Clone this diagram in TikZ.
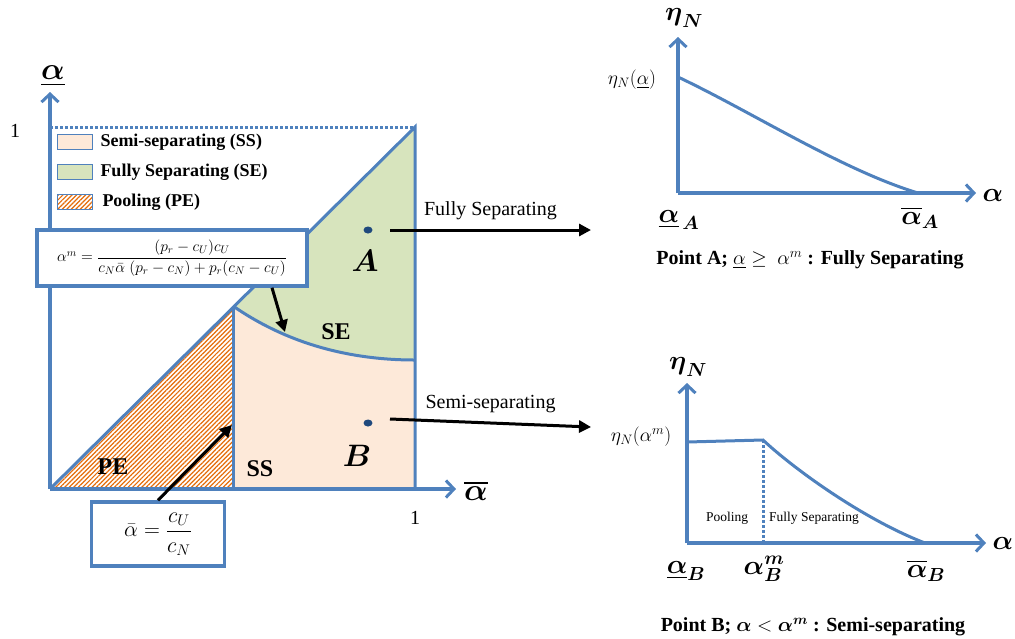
\RequirePackage{fix-cm}
\documentclass[tikz,border=0pt]{standalone}
\usepackage{amsmath,amssymb}
\usepackage{fontspec}
\setmainfont{Liberation Serif}
\usepackage{tikz}
\usetikzlibrary{positioning, arrows.meta, patterns.meta, shapes.geometric}
\definecolor{axisblue}{HTML}{4F81BD}
\definecolor{ssfill}{HTML}{FDE9D9}
\definecolor{sefill}{HTML}{D7E4BD}
\definecolor{peorange}{HTML}{E46C0A}
\definecolor{dotblue}{HTML}{1F497D}

\tikzset{
  axis/.style={draw=axisblue, line width=3.5pt, -{Straight Barb[length=8pt, width=17pt, line width=3pt]}},
  border/.style={draw=axisblue, line width=3pt},
  pointer/.style={draw=black, line width=3pt, -{Triangle[length=12pt, width=12pt]}},
  eqbox/.style={draw=axisblue, line width=3.5pt, fill=white, inner sep=0pt},
  legbox/.style={draw=axisblue, line width=1.6pt, minimum width=35pt, minimum height=15pt, inner sep=0pt},
  legtext/.style={font=\fontsize{18}{20}\selectfont\bfseries, inner sep=0pt},
  region/.style={font=\fontsize{24}{26}\selectfont\bfseries},
  plain/.style={font=\fontsize{20}{22}\selectfont},
  axlabel/.style={font=\fontsize{27}{29}\selectfont},
  ticklabel/.style={font=\fontsize{19.5}{21}\selectfont},
  caption/.style={font=\fontsize{20}{22}\selectfont\bfseries},
  dot/.style={ellipse, fill=dotblue, minimum width=9pt, minimum height=7pt, inner sep=0pt},
}

\begin{document}
\begin{tikzpicture}[x=1pt, y=-1pt]
  \useasboundingbox (0,0) rectangle (1015,638);

  % main chart: corners
  \coordinate (o) at (50,489);
  \coordinate (ytop) at (50,92);
  \coordinate (xend) at (456,489);
  \coordinate (tl) at (50,127);
  \coordinate (tr) at (415,127);
  \coordinate (br) at (415,489);
  \coordinate (cross) at (233,306);
  \coordinate (cb) at (233,489);
  \coordinate (se) at (415,360);

  % regions
  \fill[ssfill] (cb) -- (cross) .. controls (288,344) and (350,360) .. (se) -- (br) -- cycle;
  \fill[sefill] (cross) .. controls (288,344) and (350,360) .. (se) -- (tr) -- cycle;
  \fill[pattern={Lines[angle=45, distance=3.2pt, line width=1.2pt]}, pattern color=peorange] (o) -- (cb) -- (cross) -- cycle;

  \draw[border] (o) -- (tr) -- (br);
  \draw[border] (cross) -- (cb);
  \draw[border] (cross) .. controls (288,344) and (350,360) .. (se);
  \draw[draw=axisblue, line width=3pt, dotted] (tl) -- (tr);
  \draw[axis] (o) -- (ytop);
  \draw[axis] (o) -- (xend);

  \node[font=\fontsize{31}{33}\selectfont] (alab) at (53,76) {$\underline{\boldsymbol{\alpha}}$};
  \node[plain] (onev) at (15,131) {1};
  \node[font=\fontsize{31}{33}\selectfont] (ablab) at (476,491) {$\overline{\boldsymbol{\alpha}}$};
  \node[plain] (oneh) at (415,518) {1};

  % legend
  \node[legbox, fill=ssfill] (legSS) at (75,142) {};
  \node[legbox, fill=sefill] (legSE) at (75,172) {};
  \node[legbox, pattern={Lines[angle=45, distance=3.2pt, line width=1.2pt]}, pattern color=peorange] (legPE) at (75,202) {};
  \node[legtext, right=7pt of legSS] (txtSS) {Semi-separating (SS)};
  \node[legtext, right=7pt of legSE] (txtSE) {Fully Separating (SE)};
  \node[legtext, right=9pt of legPE] (txtPE) {Pooling (PE)};

  \node[region] (lblSE) at (336,332) {SE};
  \node[region] (lblSS) at (260,469) {SS};
  \node[region] (lblPE) at (113,467) {PE};
  \node[font=\fontsize{31}{33}\selectfont] (lblA) at (365,261) {$\boldsymbol{A}$};
  \node[font=\fontsize{31}{33}\selectfont] (lblB) at (357,456) {$\boldsymbol{B}$};
  \node[dot] (ptA) at (368,230) {};
  \node[dot] (ptB) at (368,423) {};

  % formula boxes
  \node[eqbox, minimum width=270pt, minimum height=56pt, font=\fontsize{15.5}{17}\selectfont] (eqm) at (172,258)
    {$\alpha^m = \dfrac{(p_r - c_U)c_U}{c_N\bar{\alpha}\;(p_r - c_N) + p_r(c_N - c_U)}$};
  \node[eqbox, minimum width=133pt, minimum height=64pt, font=\fontsize{22}{24}\selectfont] (abar) at (158,534)
    {$\bar{\alpha} = \dfrac{c_U}{c_N}$};
  \coordinate (onse) at (285,332);
  \coordinate (onpe) at (232,425);
  \draw[pointer] ([xshift=100pt]eqm.south) -- (onse);
  \draw[pointer] (abar.north) -- (onpe);

  % arrows to the two plots
  \coordinate (toA) at (591,230);
  \coordinate (toB) at (591,427);
  \draw[pointer] ([xshift=22pt]ptA.center) -- node[plain, above=5pt] (arA) {Fully Separating} (toA);
  \draw[pointer] ([xshift=22pt, yshift=4pt]ptB.center) -- node[plain, above=5pt] (arB) {Semi-separating} (toB);

  % plot for point A
  \coordinate (ao) at (678,193);
  \coordinate (ay) at (678,37);
  \coordinate (ax) at (976,193);
  \draw[axis] (ao) -- (ay);
  \draw[axis] (ao) -- (ax);
  \draw[draw=axisblue, line width=3pt] (678,77) .. controls (752,112) and (842,170) .. (918,193);
  \node[axlabel] (aeta) at (684,18) {$\boldsymbol{\eta}_{\boldsymbol{N}}$};
  \node[ticklabel] (aetaval) at (632,80) {$\eta_N(\underline{\alpha})$};
  \node[axlabel] (aalpha) at (993,195) {$\boldsymbol{\alpha}$};
  \node[axlabel] (alow) at (679,220) {$\underline{\boldsymbol{\alpha}}_{\,\boldsymbol{A}}$};
  \node[axlabel] (ahigh) at (920,218) {$\overline{\boldsymbol{\alpha}}_{\boldsymbol{A}}$};
  \node[caption] (capA) at (810,260) {Point A; $\underline{\alpha} \geq\ \alpha^m$ : Fully Separating};

  % plot for point B
  \coordinate (bo) at (687,543);
  \coordinate (by) at (687,383);
  \coordinate (bx) at (986,543);
  \coordinate (bm) at (763,440);
  \coordinate (bmx) at (763,543);
  \draw[axis] (bo) -- (by);
  \draw[axis] (bo) -- (bx);
  \draw[draw=axisblue, line width=3pt] (687,442) -- (bm) .. controls (795,470) and (865,520) .. (925,543);
  \draw[draw=axisblue, line width=3pt, dotted] (bm) -- (bmx);
  \node[axlabel] (beta) at (688,367) {$\boldsymbol{\eta}_{\boldsymbol{N}}$};
  \node[ticklabel] (betaval) at (641,437) {$\eta_N(\alpha^m)$};
  \node[axlabel] (balpha) at (1003,543) {$\boldsymbol{\alpha}$};
  \node[font=\fontsize{13.5}{15}\selectfont] (pool) at (727,518) {Pooling};
  \node[font=\fontsize{13.5}{15}\selectfont] (fsep) at (814,518) {Fully Separating};
  \node[axlabel] (blow) at (686,571) {$\underline{\boldsymbol{\alpha}}_{\boldsymbol{B}}$};
  \node[axlabel] (bmid) at (764,569) {$\boldsymbol{\alpha}^{\boldsymbol{m}}_{\boldsymbol{B}}$};
  \node[axlabel] (bhigh) at (926,571) {$\overline{\boldsymbol{\alpha}}_{\boldsymbol{B}}$};
  \node[caption] (capB) at (813,627) {Point B; $\boldsymbol{\alpha} < \boldsymbol{\alpha}^{\boldsymbol{m}}$ : Semi-separating};
\end{tikzpicture}
\end{document}
